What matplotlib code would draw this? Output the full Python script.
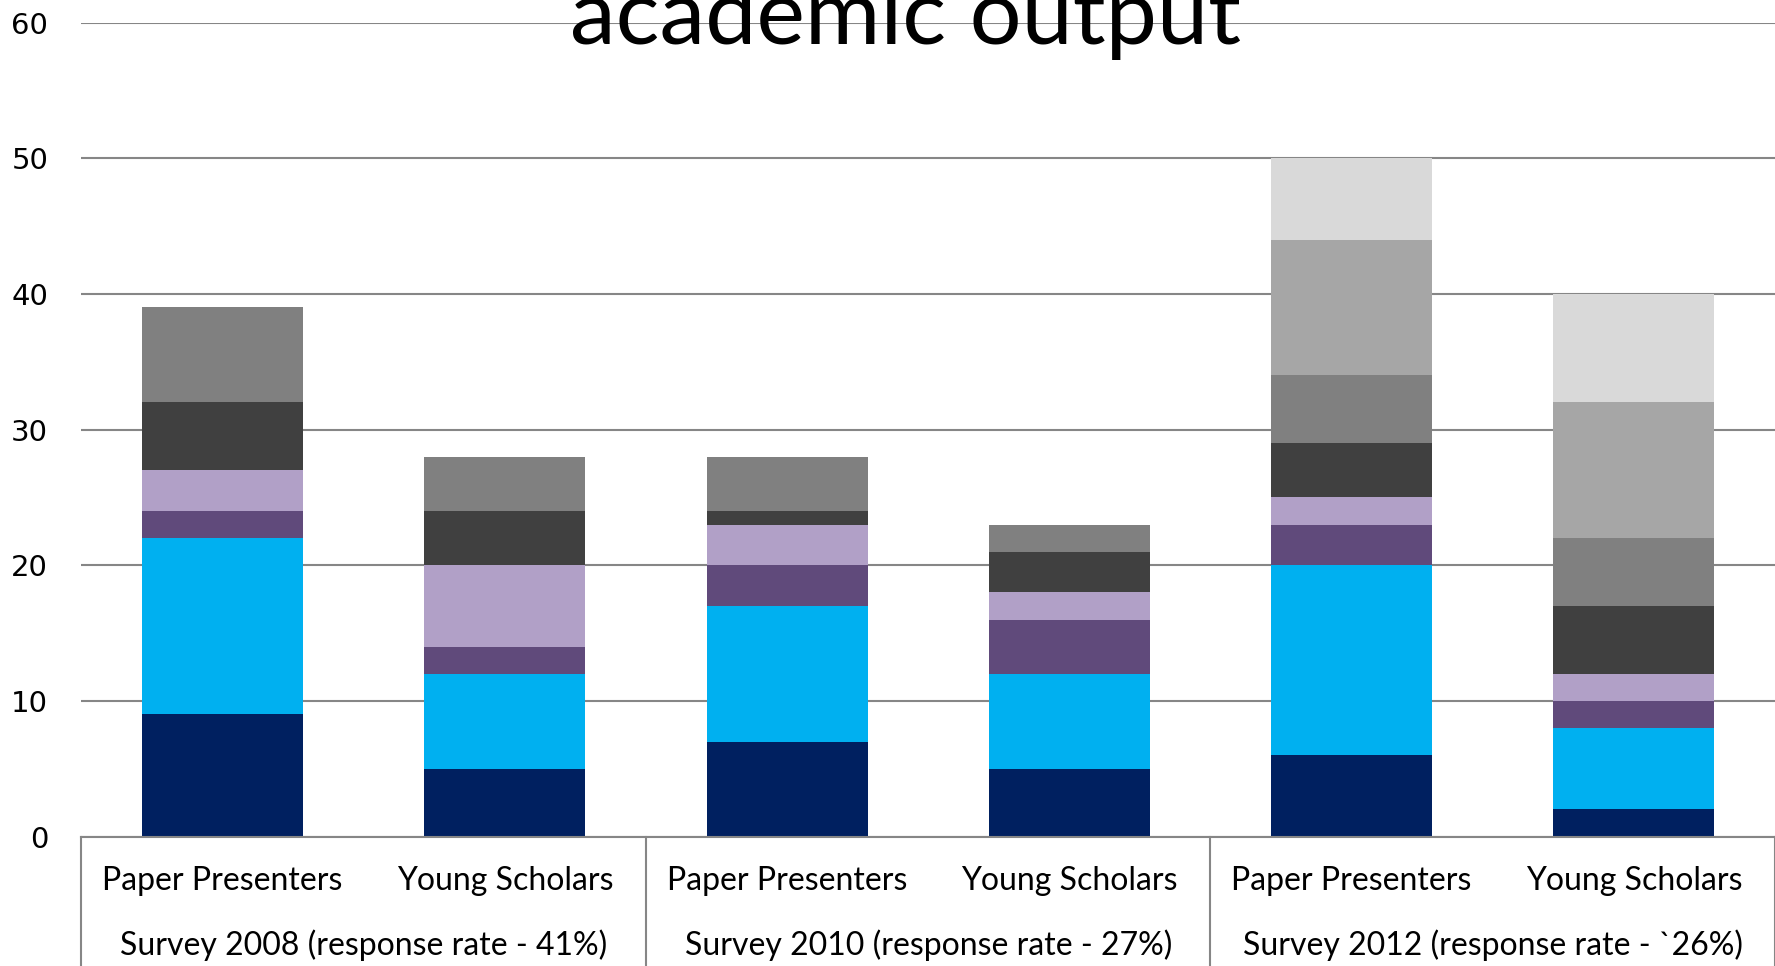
import matplotlib
matplotlib.use("Agg")
import matplotlib.pyplot as plt
import numpy as np

categories = ["Paper Presenters", "Young Scholars"] * 3
groups = ["Survey 2008 (response rate - 41%)",
          "Survey 2010 (response rate - 27%)",
          "Survey 2012 (response rate - `26%)"]

s1 = [9, 5, 7, 5, 6, 2]
s2 = [13, 7, 10, 7, 14, 6]
s3 = [2, 2, 3, 4, 3, 2]
s4 = [3, 6, 3, 2, 2, 2]
s5 = [5, 4, 1, 3, 4, 5]
s6 = [7, 4, 4, 2, 5, 5]
s7 = [0, 0, 0, 0, 10, 10]
s8 = [0, 0, 0, 0, 6, 8]
series = [s1, s2, s3, s4, s5, s6, s7, s8]
colors = ["#002060", "#00B0F0", "#604A7B", "#B1A0C7",
          "#404040", "#808080", "#A6A6A6", "#D9D9D9"]

yticks = [0, 10, 20, 30, 40, 50, 60]

fig = plt.figure(figsize=(17.75, 9.66), dpi=100)
ax = fig.add_axes([0.0459, 0.134, 0.9541, 0.8426])

x = np.arange(len(categories))
bottom = np.zeros(len(categories))
for vals, c in zip(series, colors):
    v = np.array(vals, dtype=float)
    ax.bar(x, v, bottom=bottom, width=0.57, color=c, zorder=3)
    bottom += v

ax.set_xlim(-0.5, 5.5)
ax.set_ylim(0, 60)
ax.set_yticks(yticks)
ax.set_yticklabels([str(t) for t in yticks], fontsize=21, family="DejaVu Sans")
ax.tick_params(axis="y", length=0, pad=24)
ax.tick_params(axis="x", length=0, labelbottom=False)
ax.grid(axis="y", color="#868686", lw=1.5, zorder=0)
for s in ["top", "right", "left"]:
    ax.spines[s].set_visible(False)
ax.spines["bottom"].set_color("#868686")
ax.spines["bottom"].set_linewidth(1.5)
ax.spines["bottom"].set_zorder(4)

tr = ax.get_xaxis_transform()
for xv in [-0.5, 1.5, 3.5, 5.5]:
    ax.plot([xv, xv], [0, -0.25], transform=tr, color="#868686", lw=1.5, clip_on=False)

for xi, lab in zip(x, categories):
    ax.text(xi, -0.054, lab, transform=tr, ha="center", va="center",
            fontsize=23, family="Lato")
for gi, g in enumerate(groups):
    ax.text(2 * gi + 0.5, -0.133, g, transform=tr, ha="center", va="center",
            fontsize=23, family="Lato")

fig.text(905 / 1775, 1 - 44 / 966, "academic output", ha="center", va="baseline",
         fontsize=66, family="Lato")

fig.savefig("out.png", dpi=100)
